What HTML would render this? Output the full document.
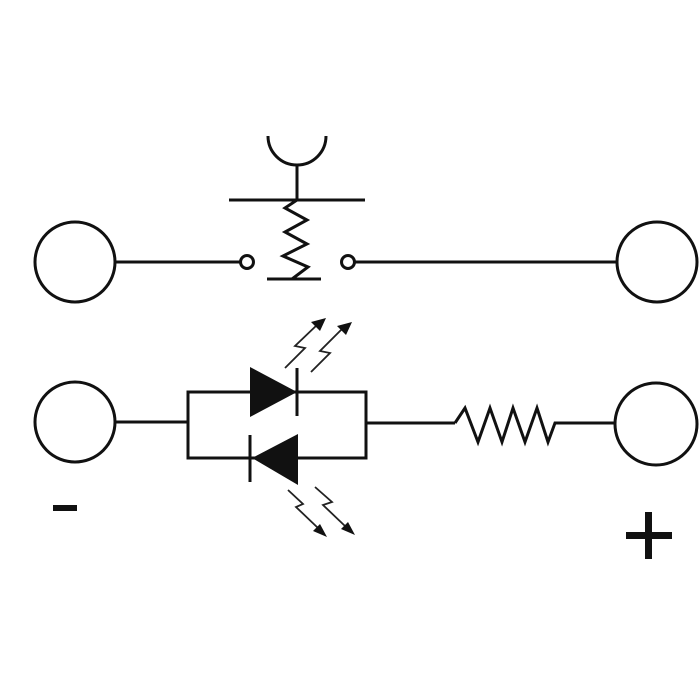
<!DOCTYPE html>
<html><head><style>html,body{margin:0;padding:0;background:#fff;overflow:hidden;width:700px;height:700px;}svg{display:block;}</style></head>
<body>
<svg width="700" height="700" viewBox="0 0 700 700" xmlns="http://www.w3.org/2000/svg">
<rect width="700" height="700" fill="#fff"/>
<g fill="none" stroke="#111" stroke-width="3">
  <circle cx="75" cy="262" r="40"/>
  <circle cx="657" cy="262" r="40"/>
  <line x1="115" y1="262" x2="240" y2="262"/>
  <circle cx="247" cy="262" r="6.5"/>
  <circle cx="348" cy="262" r="6.5"/>
  <line x1="355" y1="262" x2="617" y2="262"/>
  <path d="M268,136 A29,29 0 0 0 326,136"/>
  <line x1="297" y1="165" x2="297" y2="200"/>
  <line x1="229" y1="200" x2="365" y2="200"/>
  <polyline points="297,200 285,208 307,220 285,232 307,244 283,256 308,267 292,279"/>
  <line x1="267" y1="279" x2="321" y2="279"/>
  <circle cx="75" cy="422" r="40"/>
  <circle cx="656" cy="424" r="41"/>
  <line x1="115" y1="422" x2="188" y2="422"/>
  <rect x="188" y="392" width="178" height="66"/>
  <line x1="366" y1="423" x2="455" y2="423"/>
  <polyline points="455,423 465,408 478,442 490,408 502,442 513,408 525,442 537,408 548,442 555,423 615,423"/>
  <line x1="297" y1="368" x2="297" y2="416"/>
  <line x1="250" y1="435" x2="250" y2="482"/>
</g>
<polygon points="250,367 250,417 297,392" fill="#111"/>
<polygon points="298,434 298,485 252,458" fill="#111"/>
<g fill="none" stroke="#222" stroke-width="1.8">
  <polyline points="285,368 305,348 295,346 318,324"/>
  <polyline points="311,372 330,353 320,351 343,328"/>
  <polyline points="288,490 303,504 296,507 318,528"/>
  <polyline points="315,487 332,502 323,505 345,526"/>
</g>
<g fill="#111">
  <polygon points="326,318 311,322 320,331"/>
  <polygon points="352,322 337,326 346,335"/>
  <polygon points="327,537 313,531 320,524"/>
  <polygon points="355,535 341,529 348,522"/>
</g>
<rect x="53" y="505" width="24" height="6" fill="#111"/>
<rect x="626" y="532" width="46" height="7" fill="#111"/>
<rect x="645" y="512" width="7" height="47" fill="#111"/>
</svg>
</body></html>
